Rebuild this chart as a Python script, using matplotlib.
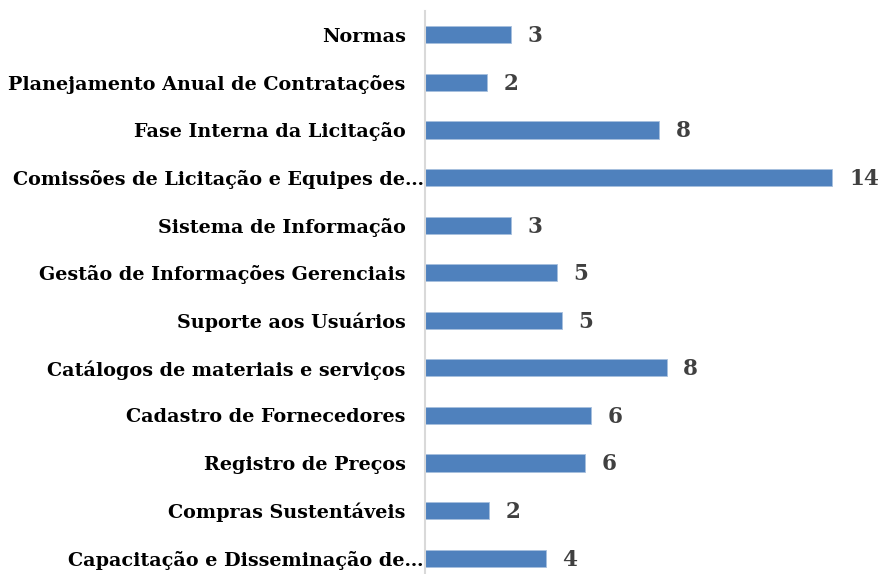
import matplotlib
matplotlib.use("Agg")
from matplotlib import pyplot as plt
from matplotlib.transforms import ScaledTranslation

categories = [
    "Normas",
    "Planejamento Anual de Contratações",
    "Fase Interna da Licitação",
    "Comissões de Licitação e Equipes de…",
    "Sistema de Informação",
    "Gestão de Informações Gerenciais",
    "Suporte aos Usuários",
    "Catálogos de materiais e serviços",
    "Cadastro de Fornecedores",
    "Registro de Preços",
    "Compras Sustentáveis",
    "Capacitação e Disseminação de…",
]
values = [2.95, 2.13, 8.04, 14.0, 2.95, 4.52, 4.70, 8.30, 5.72, 5.50, 2.21, 4.15]
value_labels = ["3", "2", "8", "14", "3", "5", "5", "8", "6", "6", "2", "4"]

BAR_COLOR = "#4f81bd"
W, H = 880, 574

fig = plt.figure(figsize=(W / 100, H / 100), dpi=100)
ax = fig.add_axes([425 / W, -8 / H, 451 / W, 571 / H])

y = list(range(len(categories)))
ax.barh(y, values, height=0.36, color=BAR_COLOR, edgecolor="#a7bfde", linewidth=0.6)
ax.set_ylim(len(categories) - 0.5, -0.5)
ax.set_xlim(0, 15.5)

ax.set_yticks(y)
ax.set_yticklabels(categories, fontfamily="DejaVu Serif", fontweight="bold",
                   fontsize=13.8, color="black")
ax.tick_params(axis="y", length=0, pad=14)
ax.set_xticks([])

# truncated labels run right up to the axis line
shift = ScaledTranslation(13 / 72, 0, fig.dpi_scale_trans)
for lbl in ax.get_yticklabels():
    if lbl.get_text().endswith("…"):
        lbl.set_transform(lbl.get_transform() + shift)

for s in ["top", "right", "bottom"]:
    ax.spines[s].set_visible(False)
ax.spines["left"].set_color("#d9d9d9")
ax.spines["left"].set_linewidth(1.5)

for yi, v, lab in zip(y, values, value_labels):
    ax.annotate(lab, (v, yi), xytext=(12, -1), textcoords="offset points",
                ha="left", va="center", fontfamily="DejaVu Serif",
                fontweight="bold", fontsize=15.5, color="#404040")

fig.savefig("out.png", dpi=100)
